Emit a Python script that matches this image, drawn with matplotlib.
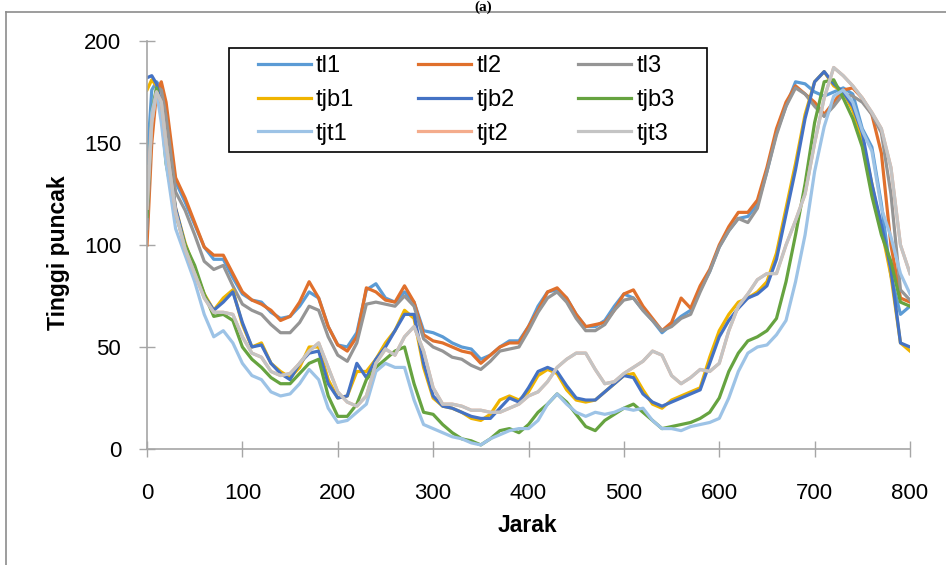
import matplotlib
matplotlib.use("Agg")
import matplotlib.pyplot as plt
from matplotlib.lines import Line2D
from matplotlib.patches import Rectangle

# jarak (x) values: fine steps at the start, then every 10
jarak = [0, 5, 10, 15] + list(range(20, 801, 10))

tl1 = [140, 176, 180, 177,
       163, 131, 121, 110, 99, 93, 93, 84, 76, 73, 72, 67, 64, 65, 70, 77,
       74, 60, 51, 50, 57, 78, 81, 74, 72, 77, 72, 58, 57, 55, 52, 50,
       49, 44, 46, 50, 53, 53, 60, 70, 77, 78, 74, 66, 60, 60, 63, 70,
       76, 74, 68, 63, 57, 61, 65, 68, 78, 87, 99, 107, 113, 114, 120, 136,
       155, 168, 180, 179, 175, 173, 175, 177, 174, 157, 148, 120, 85, 66, 70]
tl2 = [100, 150, 175, 180,
       170, 133, 123, 111, 99, 95, 95, 86, 77, 73, 71, 68, 63, 65, 72, 82,
       74, 60, 51, 48, 55, 79, 77, 73, 72, 80, 72, 56, 53, 52, 50, 48,
       47, 42, 46, 50, 52, 52, 60, 68, 77, 79, 74, 66, 60, 61, 62, 68,
       76, 78, 70, 64, 58, 62, 74, 69, 80, 88, 100, 109, 116, 116, 122, 138,
       157, 170, 178, 174, 170, 164, 170, 176, 177, 172, 164, 145, 100, 74, 72]
tl3 = [108, 160, 177, 176,
       163, 126, 117, 105, 92, 88, 90, 80, 71, 68, 66, 61, 57, 57, 62, 70,
       68, 55, 46, 43, 52, 71, 72, 71, 70, 75, 70, 54, 50, 48, 45, 44,
       41, 39, 43, 48, 49, 50, 58, 67, 74, 77, 72, 64, 58, 58, 61, 68,
       73, 74, 68, 63, 58, 60, 64, 66, 77, 87, 99, 107, 113, 111, 118, 136,
       154, 168, 177, 174, 168, 163, 168, 174, 173, 170, 164, 155, 125, 78, 73]
tjb1 = [176, 181, 178, 168,
        150, 118, 101, 88, 76, 68, 74, 78, 61, 50, 52, 42, 38, 35, 40, 50,
        50, 34, 25, 26, 38, 38, 44, 52, 58, 68, 64, 40, 25, 21, 20, 18,
        15, 14, 17, 24, 26, 24, 28, 36, 39, 37, 29, 24, 23, 24, 28, 32,
        36, 37, 29, 22, 20, 24, 26, 28, 30, 45, 58, 66, 72, 74, 77, 82,
        96, 118, 140, 164, 180, 185, 178, 175, 166, 152, 130, 108, 85, 52, 48]
tjb2 = [182, 183, 179, 168,
        150, 118, 100, 88, 75, 68, 72, 77, 62, 50, 51, 42, 37, 34, 42, 47,
        48, 32, 25, 26, 42, 35, 44, 50, 58, 66, 66, 42, 26, 21, 20, 18,
        16, 15, 15, 20, 25, 23, 30, 38, 40, 38, 31, 25, 24, 24, 28, 32,
        36, 35, 27, 23, 21, 23, 25, 27, 29, 42, 55, 63, 69, 74, 76, 80,
        93, 115, 137, 162, 180, 185, 179, 175, 168, 155, 130, 110, 88, 52, 50]
tjb3 = [114, 165, 177, 165,
        140, 115, 100, 90, 76, 65, 66, 63, 50, 44, 40, 35, 32, 32, 37, 42,
        44, 26, 16, 16, 22, 34, 40, 44, 48, 50, 32, 18, 17, 12, 8, 5,
        4, 2, 5, 9, 10, 8, 12, 18, 22, 27, 23, 17, 11, 9, 14, 17,
        20, 22, 18, 14, 10, 11, 12, 13, 15, 18, 25, 38, 47, 53, 55, 58,
        64, 82, 105, 130, 160, 180, 181, 172, 162, 148, 124, 105, 92, 72, 70]
tjt1 = [120, 165, 175, 160,
        140, 108, 95, 82, 66, 55, 58, 52, 42, 36, 34, 28, 26, 27, 32, 39,
        34, 20, 13, 14, 18, 22, 38, 42, 40, 40, 24, 12, 10, 8, 6, 5,
        3, 2, 5, 7, 9, 10, 10, 14, 22, 27, 22, 18, 16, 18, 17, 18,
        20, 19, 20, 14, 10, 10, 9, 11, 12, 13, 15, 25, 38, 47, 50, 51,
        56, 63, 82, 105, 136, 158, 173, 176, 170, 156, 146, 118, 104, 86, 76]
tjt3 = [118, 160, 175, 170,
        150, 116, 98, 86, 74, 67, 67, 66, 55, 47, 45, 38, 36, 37, 42, 48,
        52, 40, 28, 23, 21, 26, 42, 49, 46, 55, 60, 48, 30, 22, 22, 21,
        19, 19, 18, 18, 20, 22, 26, 28, 33, 40, 44, 47, 47, 39, 32, 33,
        37, 40, 43, 48, 46, 36, 32, 35, 39, 38, 42, 58, 70, 76, 83, 86,
        86, 100, 112, 125, 150, 172, 187, 183, 178, 172, 165, 157, 138, 100, 86]
# tjt2 is hidden under tjt3 in the picture
tjt2 = [118, 160, 175, 170,
        150, 116, 98, 86, 74, 67, 67, 66, 55, 47, 45, 38, 36, 37, 42, 48,
        52, 40, 28, 23, 21, 26, 42, 49, 46, 55, 60, 48, 30, 22, 22, 21,
        19, 19, 18, 18, 20, 22, 26, 28, 33, 40, 44, 47, 47, 39, 32, 33,
        37, 40, 43, 48, 46, 36, 32, 35, 39, 38, 42, 58, 70, 76, 83, 86,
        86, 100, 112, 125, 150, 172, 187, 183, 178, 172, 165, 157, 138, 100, 86]

names = ["tl1", "tl2", "tl3", "tjb1", "tjb2", "tjb3", "tjt1", "tjt2", "tjt3"]
series = [tl1, tl2, tl3, tjb1, tjb2, tjb3, tjt1, tjt2, tjt3]
colors = ["#5B9BD5", "#E0702C", "#959595", "#F0B400", "#4472C4",
          "#66A340", "#9DC3E6", "#F4AC8C", "#C4C4C4"]

FONT = ["Liberation Sans", "DejaVu Sans"]
W, H = 946, 565

fig = plt.figure(figsize=(W / 100, H / 100), dpi=100)
ax = fig.add_axes([147 / W, 1 - 449 / H, 763 / W, 408 / H])

lines = []
for name, vals, c in zip(names, series, colors):
    ln, = ax.plot(jarak, vals, color=c, lw=2.3, label=name, solid_joinstyle="round")
    lines.append(ln)

ax.set_xlim(0, 800)
ax.set_ylim(0, 200)
ax.set_xticks(range(0, 801, 100))
ax.set_yticks(range(0, 201, 50))
for s in ["top", "right"]:
    ax.spines[s].set_visible(False)
for s in ["left", "bottom"]:
    ax.spines[s].set_color("#A6A6A6")
    ax.spines[s].set_linewidth(1.2)
ax.tick_params(direction="inout", length=11, width=1.0, color="#A6A6A6",
               labelsize=16, labelcolor="#000000")
ax.tick_params(axis="x", pad=19)
ax.tick_params(axis="y", pad=13)
for lab in ax.get_xticklabels() + ax.get_yticklabels():
    lab.set_family(FONT)

# legend laid out row by row like the original; frame drawn separately
order = [0, 3, 6, 1, 4, 7, 2, 5, 8]
leg = ax.legend([lines[i] for i in order], [names[i] for i in order],
                ncol=3, loc="upper left", bbox_to_anchor=(111 / 763, 394 / 408),
                borderaxespad=0, frameon=False, borderpad=0,
                prop={"family": FONT, "size": 17},
                handlelength=2.25, handletextpad=0.21, columnspacing=2.7,
                labelspacing=0.5)
fig.add_artist(Rectangle((229 / W, 1 - 152 / H), 478 / W, 104 / H,
                         fill=False, edgecolor="#000000", lw=1.2))

fig.text(58 / W, 1 - 253 / H, "Tinggi puncak", rotation=90, ha="center", va="center",
         fontsize=16.5, fontweight="bold", family=FONT)
fig.text(527 / W, 1 - 525 / H, "Jarak", ha="center", va="center",
         fontsize=16.5, fontweight="bold", family=FONT)
fig.text(483 / W, 1 - 0.5 / H, "(a)", ha="center", va="top",
         fontsize=11, fontweight="bold", family=["Liberation Serif", "DejaVu Serif"])

# outer chart frame (left and top edges visible)
fig.add_artist(Line2D([6 / W, 6 / W], [0, 1 - 12 / H], color="#8C8C8C", lw=1.2))
fig.add_artist(Line2D([6 / W, 1], [1 - 12 / H, 1 - 12 / H], color="#8C8C8C", lw=1.2))

fig.savefig("out.png", dpi=100)
